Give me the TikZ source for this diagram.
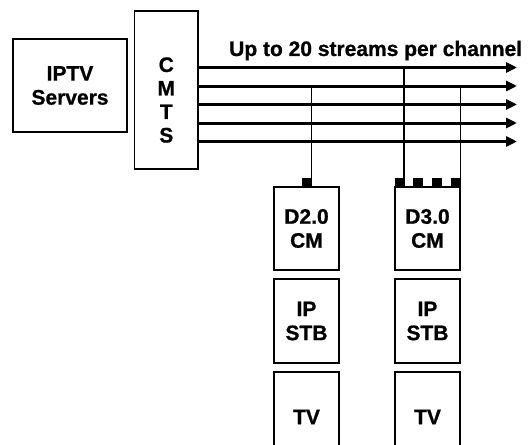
\documentclass[tikz,border=0pt]{standalone}
\usepackage{fontspec}
\setmainfont{Liberation Sans}
\newfontfamily\heavyfont{Liberation Sans Bold}[FakeBold=0.8]
\usetikzlibrary{arrows.meta}

\begin{document}
\begin{tikzpicture}[x=1pt, y=-1pt,
    box/.style={draw=black, line width=1.4pt, inner sep=0pt, align=center,
        font=\fontsize{21}{24}\selectfont\heavyfont},
    stream/.style={black, line width=3pt, -{Triangle[length=11pt, width=10pt]}},
    tap/.style={black, line width=1.3pt},
    port/.style={fill=black, inner sep=0pt, minimum width=10pt, minimum height=9pt}
]
\clip (0,0) rectangle (529,444);

% Head end
\node[box, minimum width=114pt, minimum height=93pt] (servers) at (70,85.5) {IPTV\\Servers};
\node[box, minimum width=63.5pt, minimum height=158pt] (cmts) at (166.3,90) {};
\node[align=center, inner sep=0pt, font=\fontsize{21}{23.5}\selectfont\heavyfont] (cmtstxt) at (166.3,100) {C\\M\\T\\S};

% Downstream channels
\foreach \y [count=\i] in {67.5,86,104.5,123,141.5} {
    \coordinate (s\i) at (517,\y);
    \draw[stream] (cmts.east |- s\i) -- (s\i);
}
\node[anchor=base west, inner sep=0pt, font=\fontsize{21}{24}\selectfont\heavyfont] (title) at (229,56) {Up to 20 streams per channel};

% DOCSIS 2.0 home
\node[box, minimum width=65pt, minimum height=83pt] (cma) at (306.5,228.5) {D2.0\\CM};
\node[box, minimum width=65pt, minimum height=84pt] (stba) at (306.5,321) {IP\\STB};
\node[box, minimum width=65pt, minimum height=90pt] (tva) at (306.5,417) {TV};
\node[port, anchor=south east] (pa) at (312,187) {};
\draw[tap] (pa.north east) ++(-0.6,0) coordinate (ta) -- (ta |- s2);

% DOCSIS 3.0 home (bonded)
\node[box, minimum width=65pt, minimum height=83pt] (cmb) at (427.5,228.5) {D3.0\\CM};
\node[box, minimum width=65pt, minimum height=84pt] (stbb) at (427.5,321) {IP\\STB};
\node[box, minimum width=65pt, minimum height=90pt] (tvb) at (427.5,417) {TV};
\foreach \k in {0,1,2,3}
    \node[port, anchor=south] (pb\k) at (399.5+18.8*\k,187) {};
\draw[tap] (pb0.north east) ++(-0.6,0) coordinate (tb) -- (tb |- s1);
\draw[tap] (pb3.north east) ++(-0.6,18) coordinate (tc) -- (tc |- s2);

\end{tikzpicture}
\end{document}
